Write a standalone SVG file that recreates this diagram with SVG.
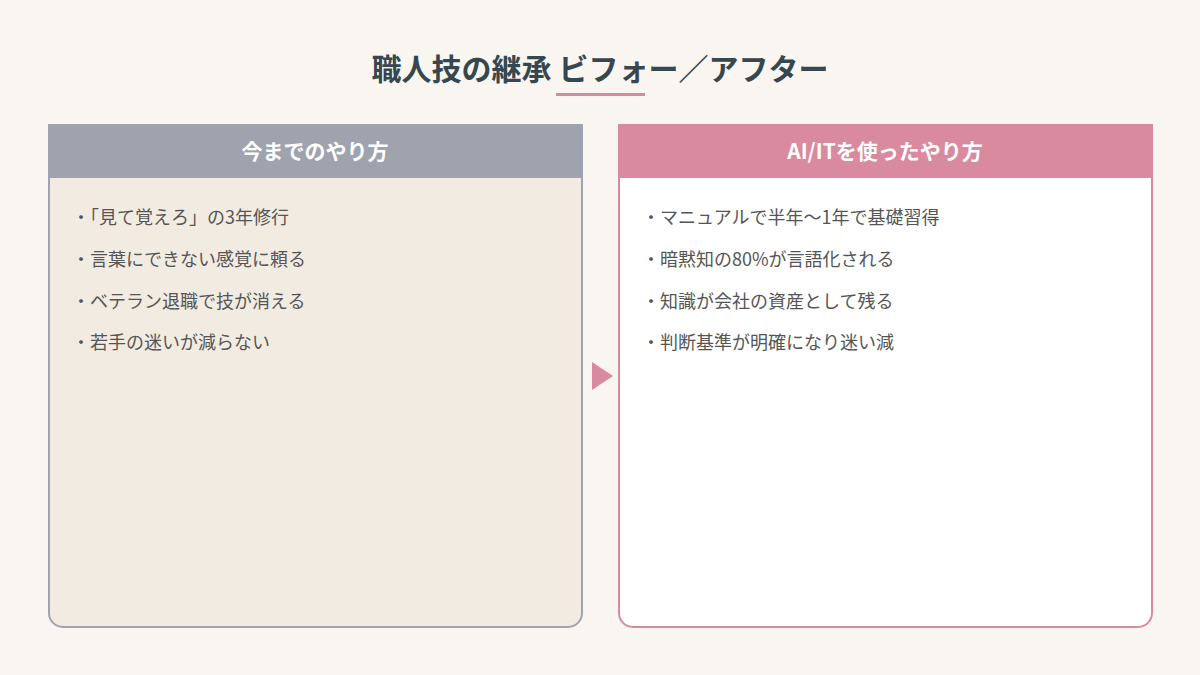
<svg xmlns="http://www.w3.org/2000/svg" width="1200" height="675" viewBox="0 0 1200 675">
<style>
text{font-family:"Noto Sans CJK JP","Noto Sans",sans-serif}
.t{font-size:30px;font-weight:700;fill:#37474f}
.h{font-size:21px;font-weight:700;fill:#fff}
.b{font-size:18px;fill:#555}
</style>
<rect width="1200" height="675" fill="#f9f6f2"/>
<text class="t" x="600" y="80" text-anchor="middle">職人技の継承 ビフォー／アフター</text>
<rect x="556" y="93" width="89" height="3" fill="#d98a9e"/>
<g id="before">
<path d="M49,125H582V613a14,14 0 0 1 -14,14H63a14,14 0 0 1 -14,-14Z" fill="#f2ebe2" stroke="#9ea3ae" stroke-width="2"/>
<rect x="49" y="125" width="533" height="53" fill="#9ea3ae"/>
<text class="h" x="315" y="159" text-anchor="middle">今までのやり方</text>
<text class="b" x="72" y="224">・「見て覚えろ」の3年修行</text>
<text class="b" x="72" y="266">・言葉にできない感覚に頼る</text>
<text class="b" x="72" y="308">・ベテラン退職で技が消える</text>
<text class="b" x="72" y="349">・若手の迷いが減らない</text>
</g>
<g id="connectors"><polygon points="592,362 613,376 592,390" fill="#d98a9e"/></g>
<g id="after">
<path d="M619,125H1152V613a14,14 0 0 1 -14,14H633a14,14 0 0 1 -14,-14Z" fill="#fff" stroke="#d98a9e" stroke-width="2"/>
<rect x="619" y="125" width="533" height="53" fill="#d98a9e"/>
<text class="h" x="885" y="159" text-anchor="middle">AI/ITを使ったやり方</text>
<text class="b" x="642" y="224">・マニュアルで半年〜1年で基礎習得</text>
<text class="b" x="642" y="266">・暗黙知の80%が言語化される</text>
<text class="b" x="642" y="308">・知識が会社の資産として残る</text>
<text class="b" x="642" y="349">・判断基準が明確になり迷い減</text>
</g>
</svg>
